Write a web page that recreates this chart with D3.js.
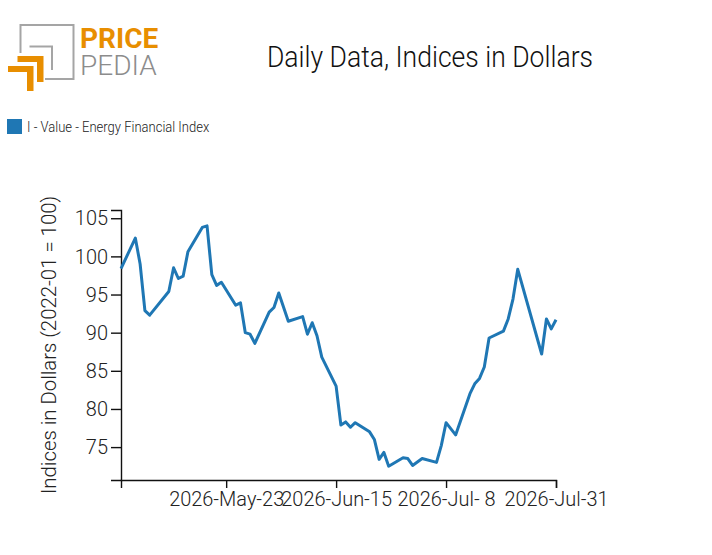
<!DOCTYPE html>
<html>
<head>
<meta charset="utf-8">
<script src="https://cdn.jsdelivr.net/npm/d3@7"></script>
<style>
  body { margin: 0; background: #fff; }
  text { font-family: Roboto, sans-serif; }
</style>
</head>
<body>
<div id="app"></div>
<script>
// daily values (business days, some on straight runs left out)
const dates = [
  '2026-05-01', '2026-05-04', '2026-05-05', '2026-05-06', '2026-05-07',
  '2026-05-11', '2026-05-12', '2026-05-13', '2026-05-14', '2026-05-15',
  '2026-05-18', '2026-05-19', '2026-05-20', '2026-05-21', '2026-05-22',
  '2026-05-25', '2026-05-26', '2026-05-27', '2026-05-28', '2026-05-29',
  '2026-06-01', '2026-06-02', '2026-06-03', '2026-06-05',
  '2026-06-08', '2026-06-09', '2026-06-10', '2026-06-11', '2026-06-12',
  '2026-06-15', '2026-06-16', '2026-06-17', '2026-06-18', '2026-06-19',
  '2026-06-22', '2026-06-23', '2026-06-24', '2026-06-25', '2026-06-26',
  '2026-06-29', '2026-06-30', '2026-07-01', '2026-07-03',
  '2026-07-06', '2026-07-07', '2026-07-08', '2026-07-10',
  '2026-07-13', '2026-07-14', '2026-07-15', '2026-07-16', '2026-07-17',
  '2026-07-20', '2026-07-21', '2026-07-22', '2026-07-23',
  '2026-07-28', '2026-07-29', '2026-07-30', '2026-07-31'
];
const values = [
  98.4, 102.4, 99.0, 92.9, 92.3,
  95.4, 98.5, 97.1, 97.4, 100.6,
  103.8, 104.0, 97.6, 96.2, 96.6,
  93.6, 93.9, 90.0, 89.8, 88.6,
  92.7, 93.3, 95.2, 91.5,
  92.1, 89.8, 91.3, 89.6, 86.8,
  83.0, 77.9, 78.3, 77.6, 78.2,
  77.0, 76.0, 73.4, 74.3, 72.5,
  73.6, 73.5, 72.6, 73.5,
  73.0, 75.2, 78.2, 76.6,
  82.0, 83.3, 84.0, 85.5, 89.3,
  90.2, 91.8, 94.4, 98.3,
  87.2, 91.8, 90.5, 91.7
];
const xDomain = ['2026-05-01', '2026-07-31'];
const xTicks = ['2026-05-23', '2026-06-15', '2026-07-08', '2026-07-31'];
const seriesName = 'I - Value - Energy Financial Index';
const title = 'Daily Data, Indices in Dollars';
const yLabel = 'Indices in Dollars (2022-01 = 100)';

const width = 712;
const height = 555;
const margin = { top: 210, right: 156, bottom: 75, left: 121 };
// Roboto squeezed sideways to look like the condensed face of the original
const squeeze = { title: 0.885, legend: 0.93, ticks: 0.95, label: 0.97 };
const blue = '#1f77b4';
const orange = '#e88e00';
const grey = '#a5a5a5';

const parse = d3.timeParse('%Y-%m-%d');
const data = dates.map((d, i) => ({ date: parse(d), value: values[i] }));

const svg = d3.select('#app').append('svg')
    .attr('width', width)
    .attr('height', height);

// logo
const logo = svg.append('g');
logo.append('path')
    .attr('d', 'M20.5,53 V25 H73.5 V79 H45')
    .attr('fill', 'none').attr('stroke', grey).attr('stroke-width', 2);
logo.append('path')
    .attr('d', 'M29.5,46.5 H52 V70')
    .attr('fill', 'none').attr('stroke', grey).attr('stroke-width', 2);
logo.append('path')
    .attr('d', 'M17.5,56 H43.5 V82 H37 V62 H17.5 Z')
    .attr('fill', orange);
logo.append('path')
    .attr('d', 'M8,66 H33.5 V91 H27 V72 H8 Z')
    .attr('fill', orange);
const brand = logo.append('text')
    .attr('x', 80).attr('y', 48)
    .attr('font-size', 28);
brand.append('tspan')
    .attr('font-weight', 700)
    .attr('fill', orange)
    .text('PRICE');
brand.append('tspan')
    .attr('x', 80).attr('dy', 27)
    .attr('font-weight', 300)
    .attr('fill', '#8c8c8c')
    .text('PEDIA');

svg.append('text')
    .attr('transform', `translate(430,67) scale(${squeeze.title},1)`)
    .attr('text-anchor', 'middle')
    .attr('font-size', 30).attr('font-weight', 300)
    .attr('fill', '#111')
    .text(title);

// legend
svg.append('rect')
    .attr('x', 7).attr('y', 119)
    .attr('width', 15).attr('height', 15)
    .attr('fill', blue);
svg.append('text')
    .attr('transform', `translate(27,132) scale(${squeeze.legend},1)`)
    .attr('font-size', 14).attr('font-weight', 300)
    .attr('fill', '#222')
    .text(seriesName);

const x = d3.scaleTime()
    .domain(xDomain.map(parse))
    .range([margin.left, width - margin.right]);

const yMin = d3.min(values), yMax = d3.max(values);
const y = d3.scaleLinear()
    .domain([yMin * 0.975, yMax * 1.02])
    .range([height - margin.bottom, margin.top]);

const xAxis = svg.append('g')
    .attr('transform', `translate(0,${height - margin.bottom})`)
    .call(d3.axisBottom(x)
        .tickValues(xTicks.map(parse))
        .tickFormat(d3.timeFormat('%Y-%b-%e'))
        .tickSize(8)
        .tickPadding(3));

const yAxis = svg.append('g')
    .attr('transform', `translate(${margin.left},0)`)
    .call(d3.axisLeft(y).tickSize(10).tickPadding(3));

[xAxis, yAxis].forEach(ax => {
  ax.select('.domain').attr('stroke', '#111').attr('stroke-width', 1.4);
  ax.selectAll('.tick line').attr('stroke', '#111').attr('stroke-width', 1.4);
  ax.selectAll('.tick text')
      .attr('font-family', 'Roboto, sans-serif')
      .attr('font-size', 21).attr('font-weight', 300)
      .attr('fill', '#222')
      .attr('transform', `scale(${squeeze.ticks},1)`);
});
yAxis.selectAll('.tick text').attr('x', -13 / squeeze.ticks);

svg.append('text')
    .attr('transform', `translate(56,${(margin.top + height - margin.bottom) / 2}) rotate(-90) scale(${squeeze.label},1)`)
    .attr('text-anchor', 'middle')
    .attr('font-size', 21).attr('font-weight', 300)
    .attr('fill', '#222')
    .text(yLabel);

const line = d3.line()
    .x(d => x(d.date))
    .y(d => y(d.value));

svg.append('path')
    .datum(data)
    .attr('fill', 'none')
    .attr('stroke', blue)
    .attr('stroke-width', 3)
    .attr('stroke-linejoin', 'round')
    .attr('d', line);
</script>
</body>
</html>
